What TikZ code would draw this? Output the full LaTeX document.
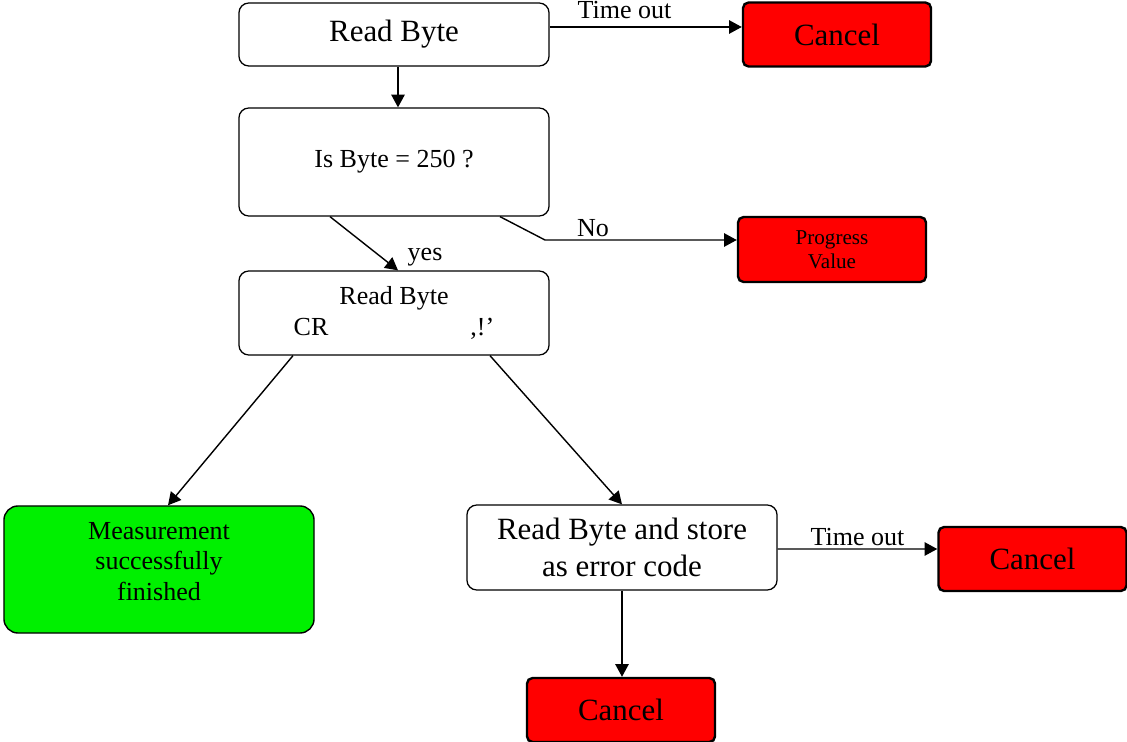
\documentclass[tikz,border=0pt]{standalone}
\usepackage{fontspec}
\setmainfont{Liberation Serif}
\usepackage{xcolor}
\usepackage{tikz}
\usetikzlibrary{arrows.meta,positioning,calc}
\definecolor{stopred}{HTML}{FF0000}
\definecolor{donegreen}{HTML}{00F000}
\newcommand{\bigtxt}{\fontsize{22}{26}\selectfont}
\newcommand{\midtxt}{\fontsize{18.5}{21.5}\selectfont}
\newcommand{\smalltxt}{\fontsize{15}{17}\selectfont}
\tikzset{
  stepbox/.style={
    rectangle, rounded corners=7pt, draw=black, fill=white, line width=0.9pt,
    minimum width=7.75cm, minimum height=#1,
    align=center, inner sep=2pt
  },
  stepbox/.default=1.6cm,
  stopbox/.style={
    rectangle, rounded corners=4pt, draw=black, fill=stopred, line width=1.7pt,
    minimum width=4.7cm, minimum height=1.6cm,
    font=\bigtxt, align=center, inner sep=2pt
  },
  donebox/.style={
    rectangle, rounded corners=10pt, draw=black, fill=donegreen, line width=1pt,
    minimum width=7.75cm, minimum height=3.175cm,
    font=\midtxt, align=center, inner sep=2pt
  },
  flowarrow/.style={
    -{Triangle[length=9pt,width=9.5pt]}, line width=1pt, color=black
  },
  flowlabel/.style={font=\midtxt, inner sep=2pt},
}

\begin{document}
\begin{tikzpicture}[x=0.025cm, y=-0.025cm]
  \useasboundingbox (0,0) rectangle (1127,742);
  % top row
  \node[stepbox=1.575cm, font=\bigtxt] at (394,34.5) (readbyte) {Read Byte};
  \node[stopbox] at (837,34.5) (cancelA) {Cancel};
  \node[stepbox=2.7cm, font=\midtxt] at (394,162) (check) {Is Byte = 250 ?};
  \node[stopbox, font=\smalltxt, minimum height=1.625cm] at (832,249.5) (progress) {Progress\\Value};
  \node[stepbox=2.1cm, font=\midtxt] at (394,313) (readcr) {Read Byte\\CR\hspace{101pt},!'};
  % bottom part
  \node[donebox] at (159,569.5) (done) {Measurement\\successfully\\finished\\[-10pt]\mbox{}};
  \node[stepbox=2.125cm, font=\bigtxt] at (622,547.5) (readerr) {Read Byte and store\\as error code};
  \node[stopbox] at (1032.5,559) (cancelB) {Cancel};
  \node[stopbox] at (621,710) (cancelC) {Cancel};
  % connectors
  \draw[flowarrow] ($(readbyte.east)+(0,-7.5)$) -- node[flowlabel, above, pos=0.39, yshift=0.12cm] (toutA) {Time out} ($(cancelA.west)+(0,-7.5)$);
  \draw[flowarrow] ($(readbyte.south)+(4,0)$) -- ($(check.north)+(4,0)$);
  \draw[flowarrow] ($(check.south)+(-64,0)$) -- node[flowlabel, pos=0.65, anchor=west, xshift=0.75cm, yshift=-0.15cm] (yeslbl) {yes} ($(readcr.north)+(4,0)$);
  \coordinate (nobend) at (545,240);
  \draw[flowarrow] ($(check.south)+(106,0)$) -- (nobend) -- node[flowlabel, above, pos=0.25] (nolbl) {No} ($(progress.west)+(0,-9.5)$);
  \draw[flowarrow] ($(readcr.south)+(-101,0)$) -- ($(done.north)+(9,0)$);
  \draw[flowarrow] ($(readcr.south)+(96,0)$) -- (readerr.north);
  \draw[flowarrow] ($(readerr.east)+(0,1.5)$) -- node[flowlabel, above] (toutB) {Time out} ($(cancelB.west)+(0,-10)$);
  \draw[flowarrow] (readerr.south) -- (readerr.south |- cancelC.north);
\end{tikzpicture}
\end{document}
